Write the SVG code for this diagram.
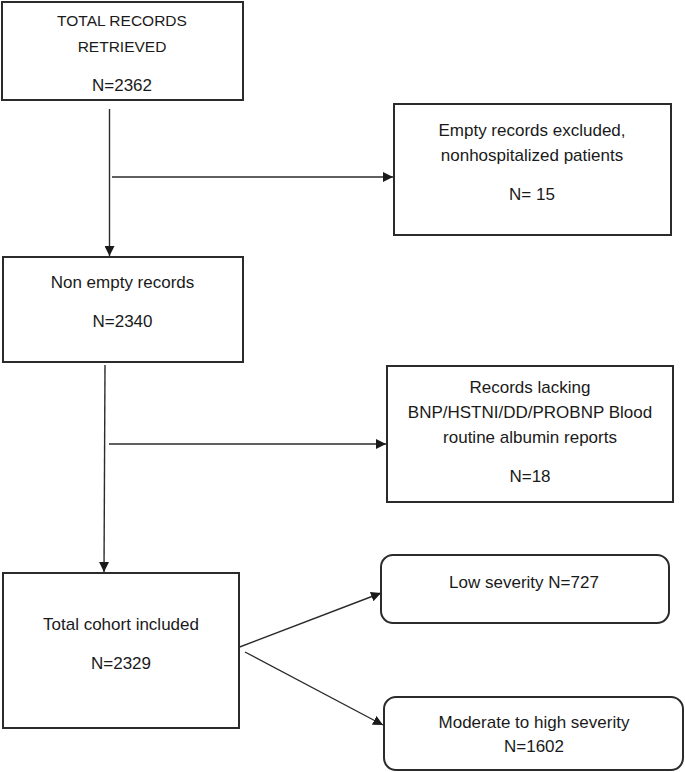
<svg xmlns="http://www.w3.org/2000/svg" width="685" height="772" viewBox="0 0 685 772">
<style>
.box{fill:#fff;stroke:#2b2b2b;stroke-width:2}
.t{font-family:"Liberation Sans",Arial,sans-serif;font-size:17px;fill:#1a1a1a;text-anchor:middle}
.cap{font-size:15.5px}
.c{stroke:#2b2b2b;stroke-width:1.4;fill:none;marker-end:url(#ah)}
</style>
<defs>
<marker id="ah" viewBox="0 0 10 10" refX="10" refY="5" markerWidth="10" markerHeight="10" markerUnits="userSpaceOnUse" orient="auto">
<path d="M0,0 L10,5 L0,10 Z" fill="#1a1a1a"/>
</marker>
</defs>
<rect width="685" height="772" fill="#fff"/>
<g id="connectors">
<line class="c" x1="109.5" y1="109" x2="109.5" y2="256"/>
<line class="c" x1="112" y1="177" x2="393" y2="177"/>
<line class="c" x1="105" y1="365" x2="104" y2="572"/>
<line class="c" x1="109" y1="444" x2="386" y2="444"/>
<line class="c" x1="237" y1="648" x2="381" y2="593"/>
<line class="c" x1="245" y1="652" x2="383" y2="725"/>
</g>
<g id="n1">
<rect class="box" x="2" y="2" width="241" height="98"/>
<text class="t cap" x="122" y="26">TOTAL RECORDS</text>
<text class="t cap" x="122" y="52">RETRIEVED</text>
<text class="t" x="122" y="91">N=2362</text>
</g>
<g id="n2">
<rect class="box" x="394" y="104" width="277" height="131"/>
<text class="t" x="532" y="136">Empty records excluded,</text>
<text class="t" x="532" y="161">nonhospitalized patients</text>
<text class="t" x="532" y="200">N= 15</text>
</g>
<g id="n3">
<rect class="box" x="3" y="257" width="240" height="105"/>
<text class="t" x="122.5" y="288">Non empty records</text>
<text class="t" x="122.5" y="327">N=2340</text>
</g>
<g id="n4">
<rect class="box" x="387" y="366" width="286" height="136"/>
<text class="t" x="530" y="393">Records lacking</text>
<text class="t" x="530" y="418">BNP/HSTNI/DD/PROBNP Blood</text>
<text class="t" x="530" y="443">routine albumin reports</text>
<text class="t" x="530" y="482">N=18</text>
</g>
<g id="n5">
<rect class="box" x="3" y="573" width="236" height="155"/>
<text class="t" x="121" y="630">Total cohort included</text>
<text class="t" x="121" y="669">N=2329</text>
</g>
<g id="n6">
<rect class="box" x="381" y="555" width="288" height="68" rx="12"/>
<text class="t" x="524" y="588">Low severity N=727</text>
</g>
<g id="n7">
<rect class="box" x="384" y="697" width="299" height="73" rx="12"/>
<text class="t" x="534" y="728">Moderate to high severity</text>
<text class="t" x="534" y="752">N=1602</text>
</g>
</svg>
